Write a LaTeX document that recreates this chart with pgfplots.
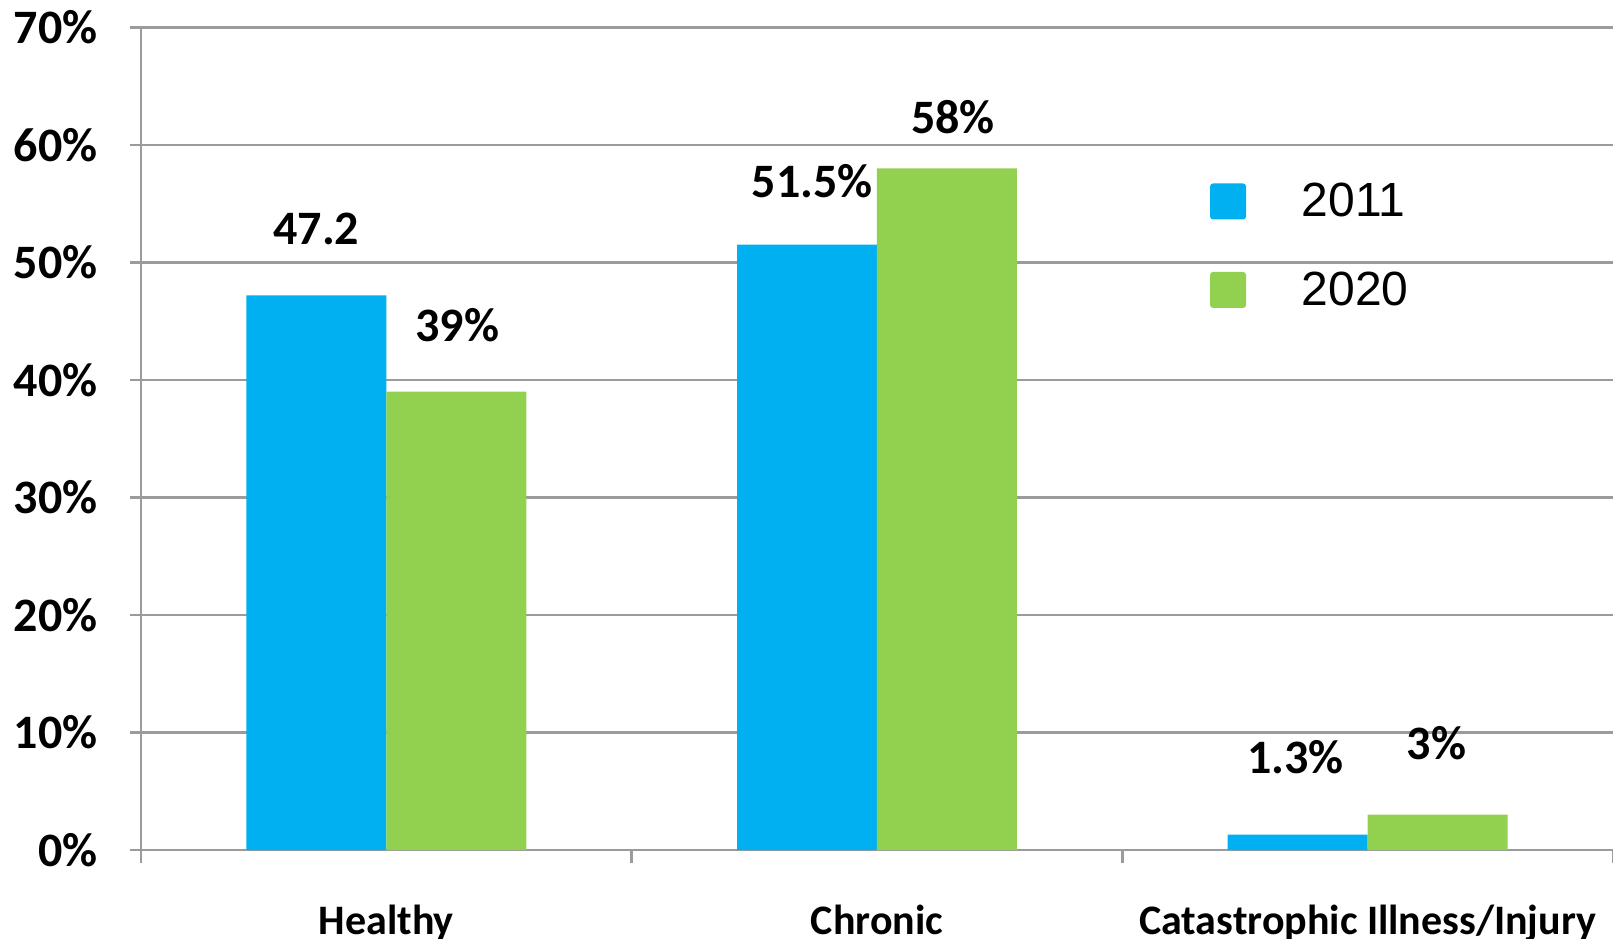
\documentclass[border=0pt]{standalone}
\usepackage{fontspec}
\setmainfont{Carlito}
\newfontfamily\legfont{Liberation Sans}
\usepackage{pgfplots}
\pgfplotsset{compat=1.18}
\definecolor{cblue}{HTML}{00B0F0}
\definecolor{cgreen}{HTML}{92D050}
\definecolor{gridgray}{RGB}{155,155,155}
\begin{document}
\begin{tikzpicture}
\useasboundingbox (0,0) rectangle (806.5pt,469pt);
\begin{axis}[
  at={(70.5pt,44pt)}, anchor=south west,
  scale only axis, width=736pt, height=411.35pt,
  xmin=0, xmax=3, ymin=0, ymax=70,
  axis x line=bottom, axis y line=left,
  x axis line style={-}, y axis line style={-},
  axis line style={gridgray, line width=1.2pt},
  ymajorgrids, major grid style={gridgray, line width=1.2pt},
  tick align=outside,
  ytick={0,10,...,70},
  yticklabels={0\%,10\%,20\%,30\%,40\%,50\%,60\%,70\%},
  major tick length=5.7pt, minor tick length=6.5pt,
  tick style={gridgray, line width=1.2pt},
  xtick={0.5,1.5,2.5},
  xticklabels={Healthy,Chronic,Catastrophic Illness/Injury},
  major x tick style={draw=none},
  minor xtick={0,1,2,3},
  yticklabel style={font=\fontsize{24}{24}\selectfont\bfseries, anchor=east, inner sep=0pt, xshift=-15.9pt},
  xticklabel style={font=\fontsize{21}{21}\selectfont\bfseries, anchor=base, inner sep=0pt, yshift=-36.5pt},
  ybar, bar width=0.2853,
  nodes near coords,
  point meta=explicit symbolic,
  visualization depends on={\thisrow{yoff} \as \yoff},
  visualization depends on={\thisrow{xoff} \as \xoff},
  every node near coord/.append style={font=\fontsize{24}{24}\selectfont\bfseries, anchor=center, inner sep=0pt, yshift=\yoff pt, xshift=\xoff pt, black},
  legend style={draw=none, fill=none, at={(rel axis cs:0.726,0.811)}, anchor=north west,
    font=\fontsize{24}{24}\selectfont\legfont, row sep=26pt, inner sep=0pt,
    nodes={inner sep=0pt},
    /tikz/every odd column/.append style={column sep=27.8pt}},
  legend cell align=left,
  legend image code/.code={\fill[#1, rounded corners=1.5pt] (0pt,-9pt) rectangle (18pt,9pt);},
]
\addplot[fill=cblue, draw=none, bar shift=-0.1426] table[x=x, y=y, meta=lab] {
x y lab yoff xoff
0.5 47.2 {47.2} 33.4 0
1.5 51.5 {51.5\%} 31.9 2.6
2.5 1.3 {1.3\%} 38.6 -1
};
\addplot[fill=cgreen, draw=none, bar shift=0.1426] table[x=x, y=y, meta=lab] {
x y lab yoff xoff
0.5 39 {39\%} 33.4 0.5
1.5 58 {58\%} 25.7 3
2.5 3 {3\%} 36 -0.5
};
\legend{2011,2020}
\end{axis}
\end{tikzpicture}
\end{document}
